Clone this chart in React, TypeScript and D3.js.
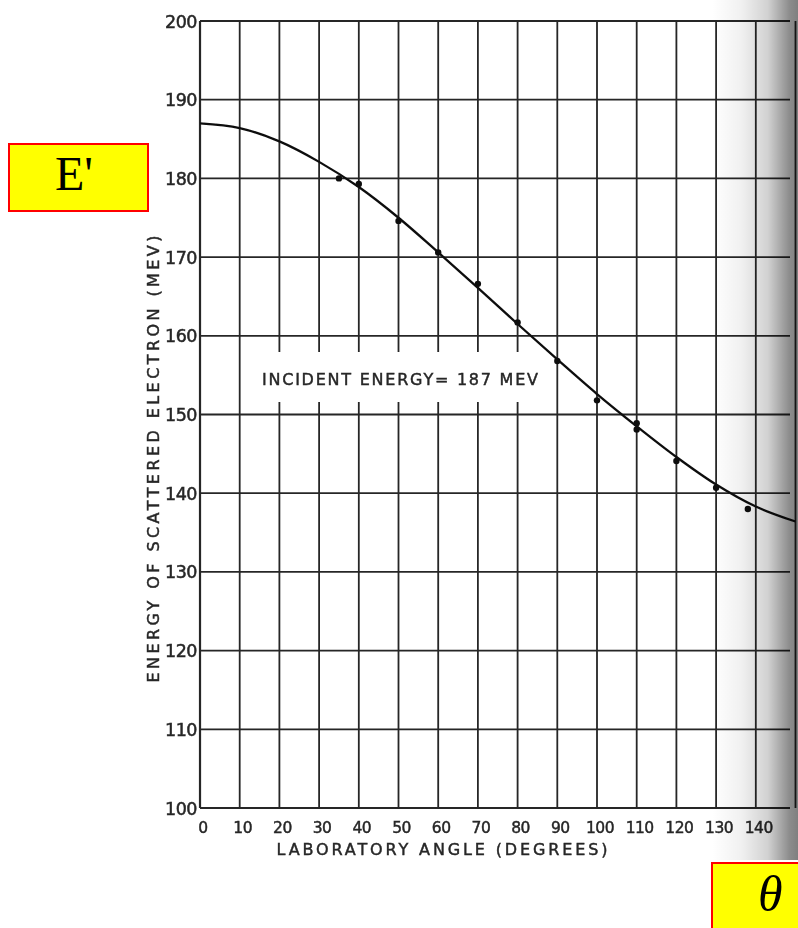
import React from "react";
import * as d3 from "d3";

const xTicks = [0, 10, 20, 30, 40, 50, 60, 70, 80, 90, 100, 110, 120, 130, 140];
const yTicks = [100, 110, 120, 130, 140, 150, 160, 170, 180, 190, 200];
const curveAngles = [0, 10, 20, 30, 40, 50, 60, 70, 80, 90, 100, 110, 120, 130, 140, 150];
const curveEnergies = [187, 186.4, 184.7, 182.1, 178.9, 175.0, 170.6, 166.1, 161.5, 157.0, 152.6, 148.5, 144.6, 141.1, 138.3, 136.4];
const pointAngles = [35, 40, 50, 60, 70, 80, 90, 100, 110, 110, 120, 130, 138];
const pointEnergies = [180.0, 179.3, 174.6, 170.6, 166.6, 161.7, 156.8, 151.8, 148.9, 148.1, 144.1, 140.7, 138.0];

const yTitle = "ENERGY OF SCATTERED ELECTRON (MEV)";
const xTitle = "LABORATORY ANGLE (DEGREES)";
const note = "INCIDENT ENERGY= 187 MEV";

export default function App() {
  const W = 798, H = 928;
  const x = d3.scaleLinear().domain([0, 150]).range([200, 795.5]);
  const y = d3.scaleLinear().domain([100, 200]).range([808, 21]);
  const line = d3
    .line<number>()
    .x((_, i) => x(curveAngles[i]))
    .y((d) => y(d))
    .curve(d3.curveCatmullRom.alpha(0.5));
  const ink = "#262626";
  const font = "'DejaVu Sans', sans-serif";
  return (
    <svg
      width={W}
      height={H}
      style={{ position: "absolute", left: 0, top: 0, background: "#fff" }}
    >
      <defs>
        <linearGradient id="shade" x1="0" x2="1" y1="0" y2="0">
          <stop offset="0" stopColor="#000" stopOpacity={0} />
          <stop offset="0.35" stopColor="#000" stopOpacity={0.06} />
          <stop offset="0.65" stopColor="#000" stopOpacity={0.18} />
          <stop offset="0.9" stopColor="#000" stopOpacity={0.45} />
          <stop offset="1" stopColor="#000" stopOpacity={0.5} />
        </linearGradient>
        <filter id="soft">
          <feGaussianBlur stdDeviation="0.45" />
        </filter>
      </defs>
      <rect width={W} height={H} fill="#fff" />
      <g filter="url(#soft)">
        {yTicks.map((t) => (
          <line
            key={"h" + t}
            x1={x(0)}
            x2={790}
            y1={y(t)}
            y2={y(t)}
            stroke={ink}
            strokeWidth={t === 100 ? 2.2 : 1.8}
          />
        ))}
        {[...xTicks, 150].map((t) => (
          <line
            key={"v" + t}
            x1={x(t)}
            x2={x(t)}
            y1={y(200)}
            y2={y(100)}
            stroke={ink}
            strokeWidth={t === 0 ? 2.2 : 1.8}
          />
        ))}
        <rect x={249} y={352} width={301} height={50} fill="#fff" />
        <text
          x={262}
          y={385}
          textLength={276}
          lengthAdjust="spacing"
          fontFamily={font}
          fontSize={16}
          fill={ink}
          stroke={ink}
          strokeWidth={0.45}
        >
          {note}
        </text>
        <path d={line(curveEnergies) || ""} fill="none" stroke="#111" strokeWidth={2.3} />
        {pointAngles.map((a, i) => (
          <circle key={"p" + i} cx={x(a)} cy={y(pointEnergies[i])} r={3.2} fill="#111" />
        ))}
        {yTicks.map((t) => (
          <text
            key={"yl" + t}
            x={197}
            y={y(t) + 6.5}
            textAnchor="end"
            fontFamily={font}
            fontSize={17.5}
            letterSpacing={-0.5}
            fill={ink}
            stroke={ink}
            strokeWidth={0.5}
          >
            {t}
          </text>
        ))}
        {xTicks.map((t) => (
          <text
            key={"xl" + t}
            x={x(t) + 3}
            y={833}
            textAnchor="middle"
            fontFamily={font}
            fontSize={15.5}
            letterSpacing={-0.5}
            fill={ink}
            stroke={ink}
            strokeWidth={0.45}
          >
            {t}
          </text>
        ))}
        <text
          transform="translate(159,459) rotate(-90)"
          textAnchor="middle"
          textLength={447}
          lengthAdjust="spacing"
          fontFamily={font}
          fontSize={16}
          fill={ink}
          stroke={ink}
          strokeWidth={0.45}
        >
          {yTitle}
        </text>
        <text
          x={442}
          y={855}
          textAnchor="middle"
          textLength={331}
          lengthAdjust="spacing"
          fontFamily={font}
          fontSize={16}
          fill={ink}
          stroke={ink}
          strokeWidth={0.45}
        >
          {xTitle}
        </text>
      </g>
      <rect x={712} y={0} width={86} height={860} fill="url(#shade)" />
      <rect x={9} y={144} width={139} height={67} fill="#ffff00" stroke="#ff0000" strokeWidth={2} />
      <text
        x={74}
        y={190}
        textAnchor="middle"
        fontFamily="'Liberation Serif', 'Times New Roman', serif"
        fontSize={48}
        fill="#000"
      >
        E'
      </text>
      <rect x={712} y={863} width={100} height={80} fill="#ffff00" stroke="#ff0000" strokeWidth={2} />
      <text
        x={758}
        y={911}
        fontFamily="'Liberation Serif', 'Times New Roman', serif"
        fontStyle="italic"
        fontSize={50}
        fill="#000"
      >
        θ
      </text>
    </svg>
  );
}
